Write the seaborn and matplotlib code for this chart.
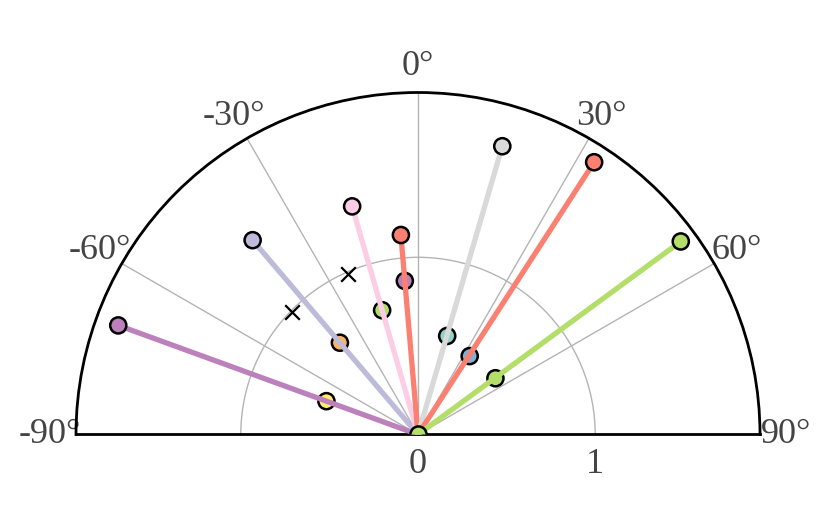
import numpy as np
import pandas as pd
import matplotlib
matplotlib.use("Agg")
from matplotlib import pyplot as plt
import seaborn as sns

# %% Data (angles in degrees, 0 at top, clockwise positive)
LINE_IDS = ["a", "b", "c", "d", "e", "f", "g"]
LINE_ANGLES = [-70.0, -40.4, -16.1, -4.9, 16.3, 32.9, 53.7]
LINE_RADII = [1.80, 1.44, 1.34, 1.13, 1.695, 1.83, 1.84]
LINE_COLORS = ["#bc80bd", "#bebada", "#fccde5", "#fb8072", "#d9d9d9", "#fb8072", "#b3de69"]

INNER_ANGLES = [-70.0, -40.4, -16.1, -4.9, 16.5, 33.4, 54.0]
INNER_RADII = [0.55, 0.68, 0.73, 0.87, 0.58, 0.53, 0.54]
INNER_COLORS = ["#ffed6f", "#fdb462", "#b3de69", "#bc80bd", "#8dd3c7", "#80b1d3", "#b3de69"]

CROSS_ANGLES = [-23.5, -45.9]
CROSS_RADII = [0.99, 0.99]

R_MAX = 1.93

# %% Build tables
lines_df = pd.DataFrame(
    {
        "line": np.repeat(LINE_IDS, 2),
        "theta": np.deg2rad(np.repeat(LINE_ANGLES, 2)),
        "r": np.ravel([[0, r] for r in LINE_RADII]),
    }
)
ends_df = pd.DataFrame({"line": LINE_IDS, "theta": np.deg2rad(LINE_ANGLES), "r": LINE_RADII})
inner_df = pd.DataFrame(
    {"pt": [f"p{i}" for i in range(len(INNER_ANGLES))], "theta": np.deg2rad(INNER_ANGLES), "r": INNER_RADII}
)
line_pal = dict(zip(LINE_IDS, LINE_COLORS))
inner_pal = dict(zip(inner_df.pt, INNER_COLORS))

# %% Plot
sns.set_style("white")
plt.rcParams["font.family"] = ["Liberation Serif", "DejaVu Serif"]

fig = plt.figure(figsize=(8.31, 5.05), dpi=100)
# square box; the half wedge is centred vertically inside it
ax = fig.add_axes([76 / 831, -100.5 / 505, 684 / 831, 684 / 505], projection="polar")
ax.set_theta_zero_location("N")
ax.set_theta_direction(-1)
ax.set_thetamin(-90)
ax.set_thetamax(90)
ax.set_ylim(0, R_MAX)

# inner points sit underneath the lines
sns.scatterplot(
    inner_df, x="theta", y="r", hue="pt", palette=inner_pal, s=135,
    edgecolor="black", linewidth=1.8, legend=False, zorder=2, ax=ax,
)
sns.lineplot(
    lines_df, x="theta", y="r", hue="line", palette=line_pal, units="line",
    estimator=None, sort=False, linewidth=3.8, legend=False, zorder=3, ax=ax,
)
sns.scatterplot(
    ends_df, x="theta", y="r", hue="line", palette=line_pal, s=135,
    edgecolor="black", linewidth=1.8, legend=False, zorder=4, ax=ax,
)
ax.scatter(np.deg2rad(CROSS_ANGLES), CROSS_RADII, marker="x", color="black", s=110, linewidths=1.6, zorder=4)
ax.scatter([0], [0], s=135, color="#b3de69", edgecolor="black", linewidth=1.8, zorder=5)

ax.set_xticks(np.deg2rad(np.arange(-90, 91, 30)))
ax.set_xticklabels([f"{d}°" for d in range(-90, 91, 30)])
ax.set_yticks([0, 1])
ax.set_yticklabels(["0", "1"])
ax.tick_params(axis="x", labelsize=26, labelcolor="#444444", pad=8)
ax.tick_params(axis="y", labelsize=26, labelcolor="#444444", pad=6)
ax.yaxis.set_tick_params(label1On=False, label2On=True)
ax.grid(True, color="#b4b4b4", linewidth=1)
ax.spines["polar"].set_color("black")
ax.spines["polar"].set_linewidth(2)
for s in ["start", "end"]:
    ax.spines[s].set_color("black")
    ax.spines[s].set_linewidth(2)
ax.spines["inner"].set_visible(False)
ax.set_xlabel("")
ax.set_ylabel("")

fig.savefig("out.png", dpi=100)
